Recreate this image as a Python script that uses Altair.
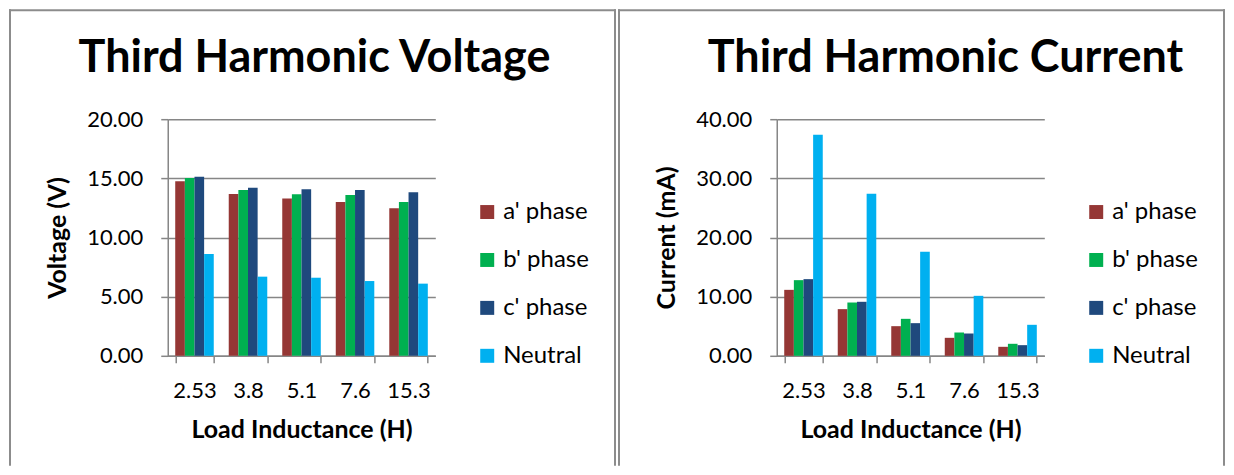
import altair as alt
import pandas as pd

categories = ["2.53", "3.8", "5.1", "7.6", "15.3"]
series = ["a' phase", "b' phase", "c' phase", "Neutral"]
colors = ["#953735", "#00B050", "#1F497D", "#00B0F0"]

voltage_a = [14.75, 13.68, 13.29, 13.00, 12.47]
voltage_b = [15.03, 14.02, 13.65, 13.60, 13.00]
voltage_c = [15.14, 14.21, 14.07, 14.02, 13.82]
voltage_n = [8.60, 6.69, 6.60, 6.32, 6.10]

current_a = [11.15, 7.89, 5.01, 3.04, 1.52]
current_b = [12.79, 9.01, 6.25, 3.94, 2.03]
current_c = [12.96, 9.13, 5.52, 3.77, 1.80]
current_n = [37.35, 27.38, 17.58, 10.14, 5.24]

FONT = "Lato"
GRAY = "#868686"
BORDER = "#8c8c8c"


def long_df(cols):
    rows = []
    for s, vals in zip(series, cols):
        for c, v in zip(categories, vals):
            rows.append({"cat": c, "series": s, "value": v})
    return pd.DataFrame(rows)


def panel(title_text, cols, ytitle, ymax, ystep, title_x):
    df = long_df(cols)
    bars = alt.Chart(df).mark_bar().encode(
        x=alt.X(
            "cat:N",
            sort=categories,
            scale=alt.Scale(paddingInner=0.28, paddingOuter=0.14),
            axis=alt.Axis(
                title="Load Inductance (H)",
                labelAngle=0,
                tickBand="extent",
                tickSize=7,
                labelPadding=18,
                titlePadding=16,
                grid=False,
            ),
        ),
        xOffset=alt.XOffset("series:N", sort=series, scale=alt.Scale(paddingInner=0, paddingOuter=0)),
        y=alt.Y(
            "value:Q",
            scale=alt.Scale(domain=[0, ymax], nice=False),
            axis=alt.Axis(
                title=ytitle,
                values=list(range(0, ymax + 1, ystep)),
                format=".2f",
                tickSize=7,
                labelPadding=18,
                titlePadding=16,
                grid=True,
            ),
        ),
        color=alt.Color(
            "series:N",
            sort=series,
            scale=alt.Scale(domain=series, range=colors),
            legend=alt.Legend(
                title=None,
                orient="none",
                legendX=308,
                legendY=81,
                symbolType="square",
                symbolSize=196,
                symbolStrokeWidth=0,
                labelFontSize=24,
                labelFont=FONT,
                labelColor="#000000",
                labelOffset=4,
                rowPadding=24,
                padding=0,
            ),
        ),
    )
    one = pd.DataFrame({"t": [title_text]})
    title = alt.Chart(one).mark_text(
        font=FONT, fontSize=45, fontWeight="bold", color="#000000",
        align="center", baseline="alphabetic",
    ).encode(text="t:N", x=alt.value(title_x), y=alt.value(-47))
    left = alt.Chart(one).mark_rule(color=BORDER, strokeWidth=2).encode(
        x=alt.value(-158), y=alt.value(-110), y2=alt.value(347))
    right = alt.Chart(one).mark_rule(color=BORDER, strokeWidth=2).encode(
        x=alt.value(448), y=alt.value(-110), y2=alt.value(347))
    top = alt.Chart(one).mark_rule(color=BORDER, strokeWidth=2).encode(
        x=alt.value(-159), x2=alt.value(449), y=alt.value(-109))
    return alt.layer(bars, title, left, right, top).properties(width=268, height=237)


c1 = panel("Third Harmonic Voltage", [voltage_a, voltage_b, voltage_c, voltage_n],
           "Voltage (V)", 20, 5, 147)
c2 = panel("Third Harmonic Current", [current_a, current_b, current_c, current_n],
           "Current (mA)", 40, 10, 169)

chart = alt.hconcat(c1, c2, spacing=0).resolve_scale(
    color="independent", y="independent", x="independent"
).properties(padding=0, background="white").configure_view(stroke=None).configure_axis(
    labelFont=FONT, titleFont=FONT, labelFontSize=22, titleFontSize=25,
    labelColor="#000000", titleColor="#000000", titleFontWeight="bold",
    domainColor=GRAY, domainWidth=1.5, tickColor=GRAY, tickWidth=1.5,
    gridColor=GRAY, gridWidth=1.5,
)

chart.save("out.html", embed_options={"renderer": "svg", "actions": False})
